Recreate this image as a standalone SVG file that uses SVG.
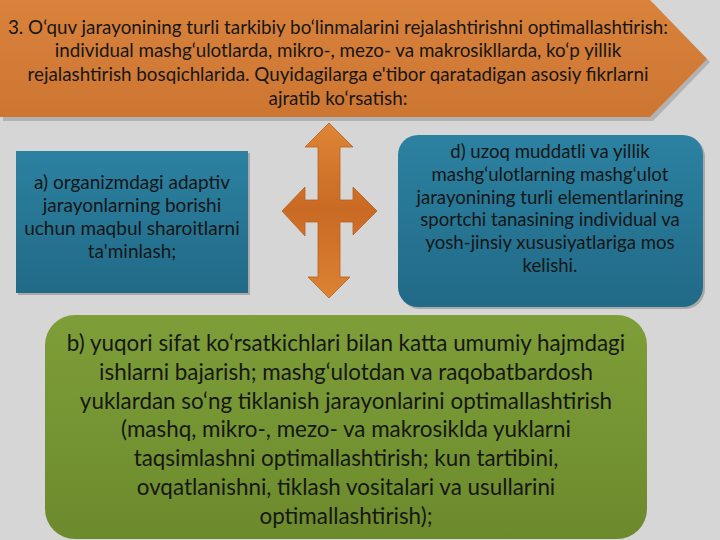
<svg xmlns="http://www.w3.org/2000/svg" width="720" height="540" viewBox="0 0 720 540">
<defs>
<linearGradient id="gOrange" x1="0" y1="0" x2="0" y2="1"><stop offset="0" stop-color="#d9823c"/><stop offset="1" stop-color="#cc7632"/></linearGradient>
<linearGradient id="gArrow" x1="0" y1="0" x2="0" y2="1"><stop offset="0" stop-color="#de8536"/><stop offset="0.5" stop-color="#c96a24"/><stop offset="1" stop-color="#dc8333"/></linearGradient>
<linearGradient id="gBlue" x1="0" y1="0" x2="0" y2="1"><stop offset="0" stop-color="#2c81a1"/><stop offset="1" stop-color="#216a87"/></linearGradient>
<linearGradient id="gGreen" x1="0" y1="0" x2="0" y2="1"><stop offset="0" stop-color="#7e9e39"/><stop offset="1" stop-color="#6c8a2c"/></linearGradient>
</defs>
<style>
text{font-family:Lato,"Open Sans","DejaVu Sans",sans-serif;fill:#161616;text-anchor:middle}
.t1{font-size:18.8px}
.t2{font-size:19px}
.t4{font-size:18.6px}
.t3{font-size:22.4px}
</style>
<rect width="720" height="540" fill="#d6d6d6"/>
<g id="top">
<polygon points="3,3 653,3 710,62 653,121 3,121" fill="#9a9a9a" opacity="0.6"/>
<polygon points="0,0 650,0 707,59 650,117 0,117" fill="url(#gOrange)"/>
<text class="t1"><tspan x="338" y="34">3. O‘quv jarayonining turli tarkibiy bo‘linmalarini rejalashtirishni optimallashtirish:</tspan><tspan x="338" y="57">individual mashg‘ulotlarda, mikro-, mezo- va makrosikllarda, ko‘p yillik</tspan><tspan x="338" y="81">rejalashtirish bosqichlarida. Quyidagilarga e'tibor qaratadigan asosiy fikrlarni</tspan><tspan x="338" y="105">ajratib ko‘rsatish:</tspan></text>
</g>
<g id="connectors">
<polygon points="329,123 353,147 340,147 340,200 353,200 353,187 377,211 353,235 353,222 340,222 340,277 350,277 329,298 308,277 318,277 318,222 305,222 305,236 282,211 305,187 305,200 318,200 318,147 305,147" fill="url(#gArrow)" stroke="#b86020" stroke-width="0.8"/>
</g>
<g id="nodeA">
<rect x="18" y="153" width="232" height="142" fill="#8a8a8a" opacity="0.6"/>
<rect x="16" y="151" width="232" height="142" fill="url(#gBlue)"/>
<text class="t2"><tspan x="132" y="189">a) organizmdagi adaptiv</tspan><tspan x="132" y="212">jarayonlarning borishi</tspan><tspan x="132" y="235">uchun maqbul sharoitlarni</tspan><tspan x="132" y="258">ta'minlash;</tspan></text>
</g>
<g id="nodeD">
<rect x="400" y="137" width="305" height="172" rx="20" fill="#8a8a8a" opacity="0.6"/>
<rect x="398" y="135" width="305" height="172" rx="20" fill="url(#gBlue)"/>
<text class="t4"><tspan x="550" y="158">d) uzoq muddatli va yillik</tspan><tspan x="550" y="181">mashg‘ulotlarning mashg‘ulot</tspan><tspan x="550" y="204">jarayonining turli elementlarining</tspan><tspan x="550" y="226">sportchi tanasining individual va</tspan><tspan x="550" y="249">yosh-jinsiy xususiyatlariga mos</tspan><tspan x="550" y="272">kelishi.</tspan></text>
</g>
<g id="nodeB">
<rect x="45" y="315" width="602" height="224" rx="30" fill="url(#gGreen)"/>
<text class="t3"><tspan x="346" y="351">b) yuqori sifat ko‘rsatkichlari bilan katta umumiy hajmdagi</tspan><tspan x="346" y="380">ishlarni bajarish; mashg‘ulotdan va raqobatbardosh</tspan><tspan x="346" y="409">yuklardan so‘ng tiklanish jarayonlarini optimallashtirish</tspan><tspan x="346" y="437">(mashq, mikro-, mezo- va makrosiklda yuklarni</tspan><tspan x="346" y="466">taqsimlashni optimallashtirish; kun tartibini,</tspan><tspan x="346" y="495">ovqatlanishni, tiklash vositalari va usullarini</tspan><tspan x="346" y="524">optimallashtirish);</tspan></text>
</g>
</svg>
